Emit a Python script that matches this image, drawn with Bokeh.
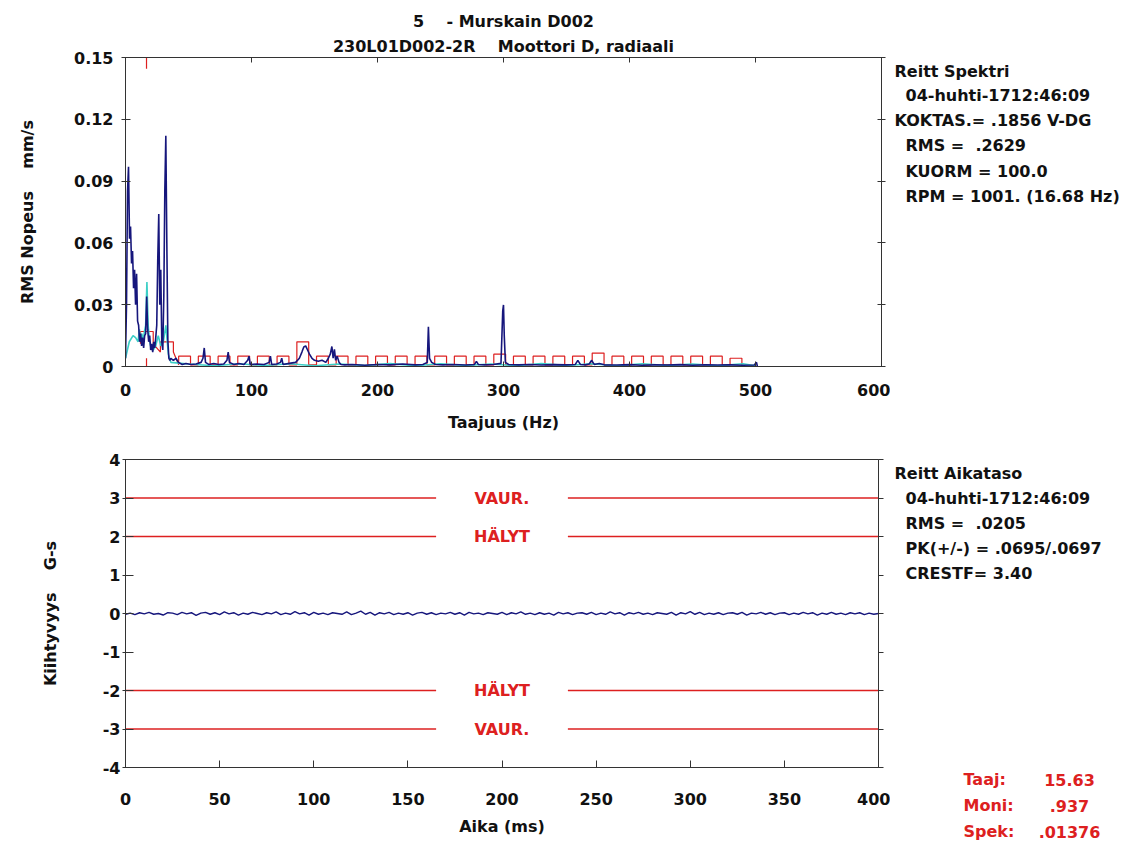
import numpy as np
from bokeh.plotting import figure
from bokeh.models import Range1d, LinearAxis, FixedTicker, ColumnDataSource, Title
from bokeh.layouts import column, row
from bokeh.embed import file_html
from bokeh.resources import INLINE
from bokeh.core.properties import value

# ------------------------------------------------------------------ data
NB = "\u00a0"
title_lines = ["5" + NB * 3 + " - Murskain D002",
               "230L01D002-2R" + NB * 3 + " Moottori D, radiaali"]

# measured velocity spectrum (Hz, mm/s RMS)
spec_freq = [0, 0.8, 1.6, 2.4, 3.2, 4.0, 4.8, 5.6, 6.4, 7.2,
             8.0, 8.8, 9.6, 10.4, 11.2, 12.0, 12.8, 13.6, 14.4, 15.2,
             16.0, 16.8, 17.6, 18.4, 19.2, 20.0, 20.8, 21.6, 22.4, 23.2,
             24.0, 24.8, 25.6, 26.4, 27.2, 28.0, 28.8, 29.6, 30.4, 31.2,
             32.0, 32.8, 33.6, 34.4, 35.2, 36.0, 38, 40, 42, 45,
             48, 52, 56, 60, 61.5, 62.5, 63.5, 66, 70, 74,
             78, 80.5, 81.5, 82.5, 86, 90, 94, 97, 98, 99,
             104, 110, 114, 115, 116, 120, 123, 124, 125, 130,
             135, 138, 140, 141.5, 143, 144.5, 146, 148, 150, 153,
             156, 159, 161, 162.5, 163.8, 164.8, 165.8, 166.8, 168, 169.5,
             171, 174, 180, 190, 200, 210, 220, 230, 236, 239.5,
             240.4, 241.3, 243, 246, 252, 260, 270, 277, 278.5, 280,
             285, 292, 298, 299.4, 300, 300.6, 301.5, 304, 312, 320,
             330, 340, 350, 357, 359, 361, 365, 368, 370, 372,
             376, 380, 390, 400, 410, 420, 430, 440, 450, 460,
             470, 480, 490, 499, 500.8, 501.5]
spec_amp = [0.004, 0.030, 0.085, 0.097, 0.062, 0.068, 0.050, 0.056, 0.038, 0.047,
            0.030, 0.045, 0.022, 0.020, 0.012, 0.016, 0.010, 0.014, 0.009, 0.015,
            0.016, 0.034, 0.018, 0.012, 0.015, 0.008, 0.011, 0.007, 0.012, 0.009,
            0.014, 0.020, 0.052, 0.074, 0.030, 0.047, 0.012, 0.008, 0.034, 0.085,
            0.112, 0.060, 0.013, 0.004, 0.003, 0.004, 0.003, 0.004, 0.002, 0.001,
            0.0015, 0.001, 0.0012, 0.002, 0.004, 0.009, 0.002, 0.001, 0.0015, 0.001,
            0.0012, 0.003, 0.007, 0.002, 0.001, 0.0015, 0.001, 0.003, 0.005, 0.001,
            0.0012, 0.001, 0.002, 0.005, 0.001, 0.0012, 0.002, 0.004, 0.001, 0.0015,
            0.002, 0.004, 0.007, 0.0095, 0.010, 0.008, 0.006, 0.004, 0.003, 0.0025,
            0.003, 0.002, 0.004, 0.006, 0.0097, 0.004, 0.0083, 0.003, 0.005, 0.002,
            0.001, 0.0008, 0.001, 0.0006, 0.001, 0.0008, 0.0012, 0.0008, 0.001, 0.002,
            0.0193, 0.004, 0.002, 0.001, 0.0008, 0.001, 0.0007, 0.001, 0.0025, 0.001,
            0.0008, 0.001, 0.0015, 0.027, 0.0299, 0.015, 0.002, 0.001, 0.0008, 0.001,
            0.0007, 0.0009, 0.0008, 0.001, 0.003, 0.001, 0.0008, 0.0012, 0.003, 0.001,
            0.0015, 0.0008, 0.0007, 0.0009, 0.0006, 0.0008, 0.0007, 0.0009, 0.0006, 0.0008,
            0.0007, 0.0008, 0.0006, 0.0007, 0.002, 0.0]

# reference (baseline) spectrum, cyan
ref_freq = [0, 3, 6, 8, 10, 11, 12, 13, 14, 15,
            16, 17, 18, 19, 20, 22, 24, 26, 28, 30,
            32, 34, 36, 50, 70, 90, 110, 130, 150, 170,
            190, 210, 230, 250, 270, 290, 310, 330, 350, 370,
            390, 410, 430, 450, 470, 490, 500]
ref_amp = [0.004, 0.012, 0.015, 0.014, 0.012, 0.018, 0.013, 0.016, 0.012, 0.017,
           0.020, 0.041, 0.020, 0.013, 0.010, 0.008, 0.010, 0.015, 0.010, 0.012,
           0.020, 0.006, 0.002, 0.0012, 0.0004, 0.0013, 0.0005, 0.0013, 0.0004, 0.0012,
           0.0005, 0.0014, 0.0004, 0.0013, 0.0005, 0.0012, 0.0004, 0.0014, 0.0005, 0.0013,
           0.0004, 0.0013, 0.0005, 0.0012, 0.0004, 0.0013, 0.0004]

# narrow-band alarm envelope (red)
band_lo = [11.9, 27.7, 42.2, 57.8, 73.5, 89.1, 104.7, 120.3, 136.0, 151.6,
           167.2, 182.9, 198.5, 214.1, 229.8, 245.4, 261.0, 276.6, 292.3, 307.9,
           323.5, 339.2, 354.8, 370.4, 386.1, 401.7, 417.3, 432.9, 448.6, 464.2, 479.8]
band_hi = [22.0, 38.0, 51.6, 67.2, 82.9, 98.5, 114.1, 129.7, 145.4, 161.0,
           176.6, 192.3, 207.9, 223.5, 239.2, 254.8, 270.4, 286.0, 301.7, 317.3,
           332.9, 348.6, 364.2, 379.8, 395.5, 411.1, 426.7, 442.3, 458.0, 473.6, 489.2]
band_top = [0.017, 0.012, 0.005, 0.005, 0.005, 0.005, 0.005, 0.005, 0.012, 0.005,
            0.005, 0.005, 0.005, 0.005, 0.005, 0.005, 0.005, 0.005, 0.006, 0.005,
            0.005, 0.005, 0.005, 0.0065, 0.005, 0.005, 0.005, 0.005, 0.005, 0.005, 0.004]
band_bottom = [0.011, 0.007] + [0.0008] * 29

cursor_freq = 16.68

freq_ticks = [0, 100, 200, 300, 400, 500, 600]
vel_ticks = [0, 0.03, 0.06, 0.09, 0.12, 0.15]

# time waveform (ms, G)
wave_amp = [-0.02, 0.01, -0.03, 0.02, -0.01, 0.03, -0.02, 0.00, -0.04, 0.02,
            0.01, -0.03, 0.03, -0.01, 0.02, -0.05, 0.01, 0.03, -0.02, 0.02,
            -0.03, 0.04, -0.01, 0.02, -0.04, 0.01, -0.02, 0.03, 0.00, -0.03,
            0.02, -0.01, 0.04, -0.03, 0.01, -0.02, 0.05, -0.01, 0.02, -0.04,
            0.03, -0.02, 0.01, -0.03, 0.02, 0.00, -0.02, 0.04, -0.03, 0.01,
            0.06, -0.02, 0.03, -0.04, 0.02, -0.01, 0.03, -0.03, 0.01, -0.02,
            0.02, -0.04, 0.01, 0.03, -0.02, 0.02, -0.03, 0.01, -0.01, 0.03,
            -0.02, 0.02, -0.04, 0.03, -0.01, 0.01, -0.03, 0.02, 0.00, -0.02,
            0.03, -0.03, 0.02, -0.01, 0.04, -0.02, 0.01, -0.03, 0.02, -0.02,
            0.01, -0.04, 0.03, -0.01, 0.02, -0.03, 0.01, 0.02, -0.02, 0.03,
            -0.03, 0.01, -0.02, 0.04, -0.01, 0.02, -0.04, 0.02, -0.01, 0.03,
            -0.02, 0.01, -0.03, 0.02, 0.00, -0.02, 0.03, -0.04, 0.02, -0.01,
            0.05, -0.02, 0.03, -0.03, 0.01, -0.02, 0.02, -0.03, 0.01, 0.02,
            -0.02, 0.03, -0.04, 0.01, -0.01, 0.03, -0.02, 0.02, -0.03, 0.01,
            0.02, -0.03, 0.01, -0.02, 0.03, -0.01, 0.02, -0.04, 0.01, -0.02,
            0.03, -0.02, 0.01, -0.03, 0.02, -0.01, 0.02, -0.03, 0.01, -0.02,
            0.00]
wave_duration_ms = 400

time_ticks = [0, 50, 100, 150, 200, 250, 300, 350, 400]
acc_ticks = [-4, -3, -2, -1, 0, 1, 2, 3, 4]

alarm_levels = [3, 2, -2, -3]
alarm_names = ["VAUR.", "HÄLYT", "HÄLYT", "VAUR."]

spec_info = ["Reitt Spektri", "04-huhti-1712:46:09", "KOKTAS.= .1856 V-DG",
             "RMS =" + NB + " .2629", "KUORM = 100.0", "RPM = 1001. (16.68 Hz)"]
spec_info_indent = [False, True, False, True, True, True]
wave_info = ["Reitt Aikataso", "04-huhti-1712:46:09", "RMS =" + NB + " .0205",
             "PK(+/-) = .0695/.0697", "CRESTF= 3.40"]
wave_info_indent = [False, True, True, True, True]
cursor_names = ["Taaj:", "Moni:", "Spek:"]
cursor_values = ["15.63", ".937", ".01376"]

# ------------------------------------------------------------------ style
FONT = "DejaVu Sans"
FS = "16px"
INK = "#111111"
FRAME = "#333333"
NAVY = "#16167c"
CYAN = "#3ccfc6"
RED = "#dd2020"
W = 1142
SPLIT = 890          # x where the text panels start


def style_axis(ax, hide_labels=False):
    ax.major_label_text_font = FONT
    ax.major_label_text_font_style = "bold"
    ax.major_label_text_font_size = "1px" if hide_labels else FS
    ax.major_label_text_color = None if hide_labels else INK
    if hide_labels:
        ax.major_label_standoff = 0
    ax.axis_label_text_font = FONT
    ax.axis_label_text_font_style = "bold"
    ax.axis_label_text_font_size = FS
    ax.axis_label_text_color = INK
    ax.axis_line_color = FRAME
    ax.major_tick_line_color = FRAME
    ax.minor_tick_line_color = None


def text_panel(width, height, x0, y0):
    # a blank figure whose data space equals page pixels (x right, y down)
    f = figure(width=width, height=height, x_range=Range1d(x0, x0 + width),
               y_range=Range1d(y0 + height, y0), output_backend="svg",
               toolbar_location=None, x_axis_type=None, y_axis_type=None, min_border=0)
    f.outline_line_color = None
    return f


def put_text(f, xs, ys, texts, color=INK, align="left"):
    f.text(x=xs, y=ys, text=texts, text_color=color, text_font=value(FONT),
           text_font_style="bold", text_font_size=FS, text_align=align,
           text_baseline="middle")


def style_title(t, standoff):
    t.align = "center"
    t.text_font = FONT
    t.text_font_style = "bold"
    t.text_font_size = FS
    t.text_color = INK
    t.standoff = standoff


# ------------------------------------------------------------------ top: spectrum
H1 = 440
L1, R1, T1, B1 = 125, 881, 57, 366
p1 = figure(width=SPLIT, height=H1, x_range=Range1d(0, 600), y_range=Range1d(0, 0.15),
            output_backend="svg", toolbar_location=None, title=title_lines[0],
            min_border_left=L1, min_border_right=SPLIT - R1,
            min_border_top=T1, min_border_bottom=H1 - B1)
p1.grid.visible = False
p1.outline_line_color = FRAME
style_title(p1.title, 4)

env_x, env_y = [], []
for lo, hi, top, bot in zip(band_lo, band_hi, band_top, band_bottom):
    env_x += [lo, lo, hi, hi]
    env_y += [bot, top, top, bot]
p1.line(env_x, env_y, color=RED, line_width=1.2)
p1.line(ref_freq, ref_amp, color=CYAN, line_width=1.6)
p1.line(spec_freq, spec_amp, color=NAVY, line_width=1.6)

p1.segment(x0=[cursor_freq, cursor_freq], y0=[0.15, 0.004],
           x1=[cursor_freq, cursor_freq], y1=[0.1445, 0.0], color=RED, line_width=1.2)

xa = p1.xaxis[0]
style_axis(xa)
xa.ticker = FixedTicker(ticks=freq_ticks)
xa.axis_label = "Taajuus (Hz)"
xa.major_tick_in, xa.major_tick_out = 5, 0
xa.major_label_standoff = 17
xa.axis_label_standoff = 14

ya = p1.yaxis[0]
style_axis(ya)
ya.ticker = FixedTicker(ticks=vel_ticks)
ya.major_label_overrides = {0: "0"}
ya.axis_label = "RMS Nopeus" + NB * 3 + " mm/s"
ya.major_tick_in, ya.major_tick_out = 5, 4
ya.major_label_standoff = 8
ya.axis_label_standoff = 34

top_ax = LinearAxis(ticker=FixedTicker(ticks=freq_ticks))
style_axis(top_ax, hide_labels=True)
top_ax.major_tick_in, top_ax.major_tick_out = 5, 0
p1.add_layout(top_ax, "above")
sub = Title(text=title_lines[1])
style_title(sub, 4)
p1.add_layout(sub, "above")
right_ax = LinearAxis(ticker=FixedTicker(ticks=vel_ticks))
style_axis(right_ax, hide_labels=True)
right_ax.major_tick_in, right_ax.major_tick_out = 4, 4
p1.add_layout(right_ax, "right")

info1 = text_panel(W - SPLIT, H1, SPLIT, 0)
put_text(info1, [905 if ind else 894 for ind in spec_info_indent],
         [71, 95, 120, 145, 171, 196], spec_info)

# ------------------------------------------------------------------ bottom: waveform
H2 = 845 - 440
L2, R2, T2, B2 = 125, 878, 459, 767
p2 = figure(width=SPLIT, height=H2, x_range=Range1d(0, 400), y_range=Range1d(-4, 4),
            output_backend="svg", toolbar_location=None,
            min_border_left=L2, min_border_right=SPLIT - R2,
            min_border_top=T2 - 440, min_border_bottom=845 - B2)
p2.grid.visible = False
p2.outline_line_color = FRAME

wave_t = np.linspace(0, wave_duration_ms, len(wave_amp))
p2.line(wave_t, wave_amp, color=NAVY, line_width=1.4)

alarm_src = ColumnDataSource(dict(level=alarm_levels, name=alarm_names,
                                  x0=[0] * 4, x1=[165] * 4, x2=[235] * 4, x3=[400] * 4,
                                  xm=[200] * 4))
p2.segment(x0="x0", y0="level", x1="x1", y1="level", source=alarm_src, color=RED, line_width=1.3)
p2.segment(x0="x2", y0="level", x1="x3", y1="level", source=alarm_src, color=RED, line_width=1.3)
p2.text(x="xm", y="level", text="name", source=alarm_src, text_color=RED,
        text_font=value(FONT), text_font_style="bold", text_font_size=FS,
        text_align="center", text_baseline="middle")

xb = p2.xaxis[0]
style_axis(xb)
xb.ticker = FixedTicker(ticks=time_ticks)
xb.axis_label = "Aika (ms)"
xb.major_tick_in, xb.major_tick_out = 7, 0
xb.major_label_standoff = 25
xb.axis_label_standoff = 9

yb = p2.yaxis[0]
style_axis(yb)
yb.ticker = FixedTicker(ticks=acc_ticks)
yb.major_label_overrides = {t: str(t) for t in acc_ticks if t < 0}
yb.axis_label = "Kiihtyvyys" + NB * 3 + " G-s"
yb.major_tick_in, yb.major_tick_out = 8, 3
yb.major_label_standoff = 2
yb.axis_label_standoff = 40

right_b = LinearAxis(ticker=FixedTicker(ticks=acc_ticks))
style_axis(right_b, hide_labels=True)
right_b.major_tick_in, right_b.major_tick_out = 0, 5
p2.add_layout(right_b, "right")

info2 = text_panel(W - SPLIT, H2, SPLIT, 440)
put_text(info2, [905 if ind else 894 for ind in wave_info_indent],
         [473, 498, 523, 548, 573], wave_info)
put_text(info2, [963] * 3, [779, 805, 831], cursor_names, color=RED)
put_text(info2, [1069] * 3, [779, 805, 831], cursor_values, color=RED, align="center")

# text panels are wrapped in their own column so their frames are not aligned to the plots'
layout = column(row(p1, column(info1, spacing=0), spacing=0),
                row(p2, column(info2, spacing=0), spacing=0),
                spacing=0)
open("out.html", "w").write(file_html(layout, INLINE))
